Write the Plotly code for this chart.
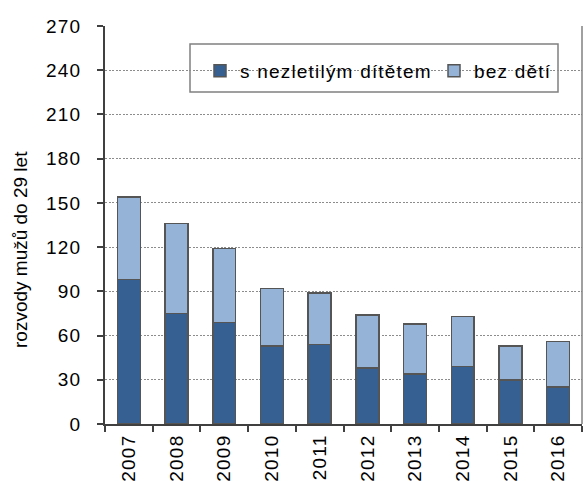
import plotly.graph_objects as go

years = ["2007", "2008", "2009", "2010", "2011", "2012", "2013", "2014", "2015", "2016"]
s_detmi = [98, 75, 69, 53, 54, 38, 34, 39, 30, 25]
bez_deti = [56, 61, 50, 39, 35, 36, 34, 34, 23, 31]
y_ticks = [0, 30, 60, 90, 120, 150, 180, 210, 240, 270]
y_title = "rozvody mužů do 29 let"
names = ["s nezletilým dítětem", "bez dětí"]

FONT = "Liberation Sans, Arial, sans-serif"
OUTLINE = dict(color="#555555", width=1.5)


def sp(t, ls=1.2):
    return f"<span style='letter-spacing:{ls}px'>{t}</span>"


fig = go.Figure()
fig.add_trace(go.Bar(x=years, y=s_detmi, name=sp(names[0]),
                     marker=dict(color="#366092", line=OUTLINE)))
fig.add_trace(go.Bar(x=years, y=bez_deti, name=sp(names[1]),
                     marker=dict(color="#95B3D7", line=OUTLINE)))

L, R, T, B = 105, 2, 26, 58
PW, PH = 584 - L - R, 482 - T - B

fig.update_layout(
    width=584, height=482,
    barmode="stack", bargap=0.52,
    plot_bgcolor="white", paper_bgcolor="white",
    margin=dict(l=L, r=R, t=T, b=B, autoexpand=False),
    font=dict(family=FONT, size=19, color="#000000"),
    showlegend=True,
    legend=dict(orientation="h", x=(200 - L) / PW, y=(424 - 52) / PH,
                xanchor="left", yanchor="top",
                bgcolor="rgba(0,0,0,0)", borderwidth=0,
                font=dict(size=19), itemwidth=30, traceorder="normal",
                entrywidth=189, entrywidthmode="pixels"),
    shapes=[
        dict(type="rect", xref="paper", yref="paper",
             x0=(190 - L) / PW, x1=(558 - L) / PW,
             y0=(424 - 92) / PH, y1=(424 - 44) / PH,
             line=dict(color="#808080", width=1.5), fillcolor="white", layer="below"),
        dict(type="line", xref="paper", yref="paper", x0=1, x1=1, y0=0, y1=1,
             line=dict(color="#808080", width=1.5)),
    ],
    annotations=[
        dict(text=y_title, textangle=-90, xref="paper", yref="paper",
             x=(20 - L) / PW, y=(424 - 250) / PH, xanchor="center", yanchor="middle",
             showarrow=False, font=dict(size=19)),
    ],
)

fig.update_yaxes(
    range=[0, 270], tickvals=y_ticks, ticktext=[sp(str(v)) for v in y_ticks],
    showgrid=True, gridcolor="#8c8c8c", griddash="2px,1.5px", gridwidth=1,
    showline=True, linecolor="#404040", linewidth=2,
    ticks="outside", ticklen=6, tickcolor="#404040", tickwidth=1.5,
    ticklabelstandoff=12,
    tickfont=dict(size=19),
    zeroline=False,
    automargin=False,
)
fig.update_xaxes(
    type="category", tickangle=-90,
    tickvals=years, ticktext=[sp(y) for y in years],
    showline=True, linecolor="#404040", linewidth=2,
    ticks="outside", ticklen=6, tickcolor="#404040", tickwidth=1.5,
    tickson="boundaries",
    ticklabelstandoff=1,
    tickfont=dict(size=19),
    showgrid=False, automargin=False,
)

fig.write_html("out.html", config={"displayModeBar": False},
               post_script="document.body.style.margin='0';")
